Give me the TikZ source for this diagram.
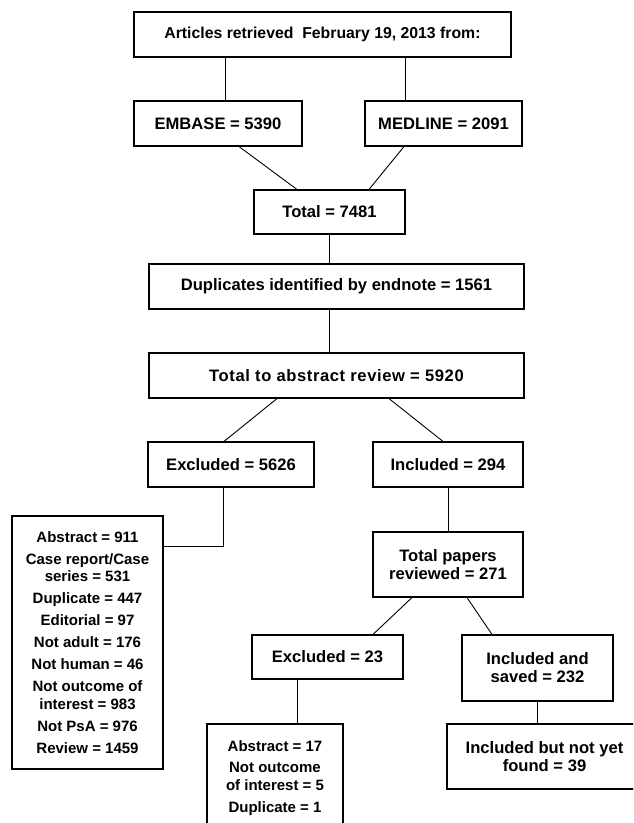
\documentclass[tikz,border=0pt]{standalone}
\usepackage{fontspec}
\setmainfont{Liberation Sans}
\usepackage{tikz, xcolor}

\begin{document}
\begin{tikzpicture}
	[
		x=1pt, y=-1pt,
		box/.style={draw,black,line width=1.1pt,inner sep=0pt,align=center,
			font=\fontsize{16.6}{18}\selectfont\bfseries},
		list/.style={box,font=\fontsize{15}{17.5}\selectfont\bfseries},
		link/.style={black,line width=0.9pt}
	]
	
	% Page frame.
	\useasboundingbox (0,0) rectangle (633,823);
	\clip (0,0) rectangle (633,823);
	
	% Draw sources.
	\node[box, font=\fontsize{15.8}{18}\selectfont\bfseries, minimum width=377pt, minimum height=45pt] (retrieved) at (322.5,34.5) {Articles retrieved\ \ February 19, 2013 from:};
	\node[box, minimum width=168pt, minimum height=45pt] (embase) at (218,123.5) {EMBASE = 5390};
	\node[box, minimum width=157pt, minimum height=45pt] (medline) at (443.5,123.5) {MEDLINE = 2091};
	\node[box, minimum width=151pt, minimum height=44pt] (total) at (329.5,212) {Total = 7481};
	
	% Draw screening.
	\node[box, minimum width=375pt, minimum height=45pt] (duplicates) at (336.5,286.5) {Duplicates identified by endnote = 1561};
	\node[box, minimum width=375pt, minimum height=45pt] (abstracts) at (336.5,375.5) {\addfontfeatures{LetterSpace=3.5}Total to abstract review = 5920};
	\node[box, minimum width=166pt, minimum height=45pt] (excluded) at (231,464.5) {Excluded = 5626};
	\node[box, minimum width=150pt, minimum height=45pt] (included) at (448,464.5) {Included = 294};
	\node[list, minimum width=151pt, minimum height=253pt] (reasons) at (87.5,642.5)
		{Abstract = 911\\[4.5pt] Case report/Case\\ series = 531\\[4.5pt] Duplicate = 447\\[4.5pt]
		 Editorial = 97\\[4.5pt] Not adult = 176\\[4.5pt] Not human = 46\\[4.5pt]
		 Not outcome of\\ interest = 983\\[4.5pt] Not PsA = 976\\[4.5pt] Review = 1459};
	
	% Draw full text review.
	\node[box, minimum width=150pt, minimum height=65pt] (papers) at (448,564.5) {Total papers\\ reviewed = 271};
	\node[box, minimum width=151pt, minimum height=44pt] (excludedft) at (327.5,657) {Excluded = 23};
	\node[box, minimum width=151pt, minimum height=66pt] (saved) at (537.5,668) {Included and\\ saved = 232};
	\node[list, minimum width=136pt, minimum height=108pt] (reasonsft) at (275,778)
		{Abstract = 17\\[4pt] Not outcome\\ of interest = 5\\[5pt] Duplicate = 1};
	\node[box, minimum width=195pt, minimum height=65pt] (notfound) at (544.5,756.5) {Included but not yet\\ found = 39};
	
	% Draw connectors.
	\draw[link] ([xshift=7pt]embase.north) -- ([xshift=7pt]embase.north |- retrieved.south);
	\draw[link] ([xshift=-38.5pt]medline.north) -- ([xshift=-38.5pt]medline.north |- retrieved.south);
	\draw[link] ([xshift=21pt]embase.south) -- ([xshift=-32.5pt]total.north);
	\draw[link] ([xshift=-39.5pt]medline.south) -- ([xshift=39.5pt]total.north);
	\draw[link] (total.south) -- (total.south |- duplicates.north);
	\draw[link] ([xshift=-7pt]duplicates.south) -- ([xshift=-7pt]abstracts.north);
	\draw[link] ([xshift=-59.5pt]abstracts.south) -- ([xshift=-7pt]excluded.north);
	\draw[link] ([xshift=52.5pt]abstracts.south) -- ([xshift=-5pt]included.north);
	\draw[link] ([xshift=-8pt]excluded.south) |- ([yshift=96pt]reasons.east);
	\draw[link] (included.south) -- (papers.north);
	\draw[link] ([xshift=-36pt]papers.south) -- ([xshift=45.5pt]excludedft.north);
	\draw[link] ([xshift=19pt]papers.south) -- ([xshift=-45.5pt]saved.north);
	\draw[link] ([xshift=-30.5pt]excludedft.south) -- ([xshift=-30.5pt]excludedft.south |- reasonsft.north);
	\draw[link] (saved.south) -- (saved.south |- notfound.north);
\end{tikzpicture}
\end{document}
